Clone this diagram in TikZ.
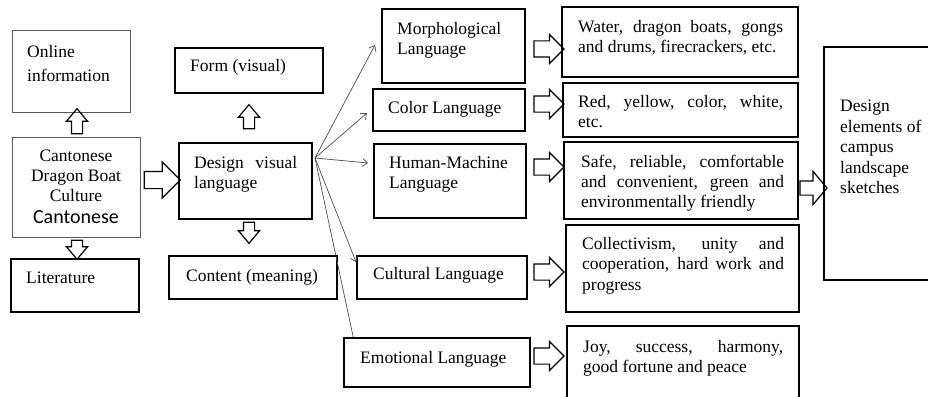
\documentclass[tikz,border=0pt]{standalone}
\usepackage{fontspec}
\setmainfont{Liberation Serif}
\newfontfamily\cantfont{Carlito}
\usetikzlibrary{shapes.arrows,arrows.meta}

\tikzset{
	box/.style={draw, line width=1.5pt, inner sep=0pt},
	greybox/.style={draw=black!65, line width=0.9pt, inner sep=0pt},
	txt/.style={inner sep=0pt, align=left, font=\fontsize{17.5}{20}\selectfont},
	jtxt/.style={txt, align=justify, text width=#1},
	barrow/.style={single arrow, draw, line width=1.2pt, inner xsep=0pt,
		minimum width=0pt, single arrow tip angle=90},
	vbarrow/.style={barrow, inner xsep=5pt, inner ysep=0pt,
		single arrow head extend=5pt, single arrow tip angle=80},
	langline/.style={draw=black!70, line width=0.7pt,
		-{Straight Barb[length=5pt, width=8pt]}}
}

\begin{document}
\begin{tikzpicture}[x=1pt, y=-1pt]
	\clip (0, 0) rectangle (928, 396);

	% left column
	\node[greybox, minimum width=118pt, minimum height=82pt] (online) at (71, 71) {};
	\node[txt, anchor=north west, font=\fontsize{17.5}{24}\selectfont] (onlinetxt) at (27, 45) {Online\\information};

	\node[greybox, minimum width=128pt, minimum height=100pt] (cant) at (76, 187) {};
	\node[txt, align=center, anchor=north] (canttxt) at (76, 150)
		{Cantonese\\Dragon Boat\\Culture\\[2pt]{\cantfont\fontsize{20}{22}\selectfont Cantonese}};

	\node[box, minimum width=128pt, minimum height=53pt] (lit) at (75, 285.5) {};
	\node[txt, anchor=base west] (littxt) at (26, 283) {Literature};

	% design visual language
	\node[box, minimum width=148pt, minimum height=45pt] (form) at (249, 70.5) {};
	\node[txt, anchor=base west] (formtxt) at (190, 71) {Form (visual)};

	\node[box, minimum width=133pt, minimum height=76pt] (design) at (245.5, 181) {};
	\node[jtxt=103pt, anchor=north west] (designtxt) at (194, 156) {Design visual\linebreak language};

	\node[box, minimum width=168pt, minimum height=43pt] (content) at (253, 277.5) {};
	\node[txt, anchor=base west] (contenttxt) at (186, 281) {Content (meaning)};

	% languages
	\node[box, minimum width=143pt, minimum height=74pt] (morph) at (453.5, 46) {};
	\node[txt, anchor=north west] (morphtxt) at (397, 22) {Morphological\\Language};

	\node[box, minimum width=152pt, minimum height=42pt] (colorlang) at (449, 110) {};
	\node[txt, anchor=base west] (colortxt) at (388, 113) {Color Language};

	\node[box, minimum width=152pt, minimum height=74pt] (human) at (450, 181) {};
	\node[txt, anchor=north west] (humantxt) at (389, 156) {Human-Machine\\Language};

	\node[box, minimum width=170pt, minimum height=43pt] (cultural) at (442, 277.5) {};
	\node[txt, anchor=base west] (culturaltxt) at (373, 279) {Cultural Language};

	\node[box, minimum width=186pt, minimum height=49pt] (emotional) at (437, 362.5) {};
	\node[txt, anchor=base west] (emotionaltxt) at (360, 363) {Emotional Language};

	% elements
	\node[box, minimum width=236pt, minimum height=70pt] (water) at (680, 42) {};
	\node[jtxt=205pt, anchor=north west] (watertxt) at (578, 20)
		{Water, dragon boats, gongs\linebreak and drums, firecrackers, etc.};

	\node[box, minimum width=235pt, minimum height=54pt] (red) at (680.5, 110) {};
	\node[jtxt=205pt, anchor=north west] (redtxt) at (578, 95)
		{Red, yellow, color, white,\linebreak etc.};

	\node[box, minimum width=234pt, minimum height=77pt] (safe) at (681, 180.5) {};
	\node[jtxt=203pt, anchor=north west] (safetxt) at (581, 155)
		{Safe, reliable, comfortable\linebreak and convenient, green and\linebreak environmentally friendly};

	\node[box, minimum width=233pt, minimum height=87pt] (collect) at (682.5, 268.5) {};
	\node[jtxt=202pt, anchor=north west, font=\fontsize{17.5}{20.5}\selectfont] (collecttxt) at (582, 237)
		{Collectivism, unity and\linebreak cooperation, hard work and\linebreak progress};

	\node[box, minimum width=232pt, minimum height=84pt] (joy) at (683, 368) {};
	\node[jtxt=200pt, anchor=north west] (joytxt) at (583, 340)
		{Joy, success, harmony,\linebreak good fortune and peace};

	\node[box, minimum width=116pt, minimum height=233pt] (sketch) at (882, 163.5) {};
	\node[txt, anchor=north west, font=\fontsize{17.5}{20.5}\selectfont] (sketchtxt) at (840, 100)
		{Design\\elements of\\campus\\landscape\\sketches};

	% block arrows
	\node[vbarrow, minimum height=25pt, shape border rotate=90] (a1) at (77, 124.5) {};
	\node[vbarrow, minimum height=19pt, shape border rotate=270] (a2) at (77, 246.5) {};
	\node[barrow, minimum height=36pt, inner ysep=8pt, single arrow head extend=9.5pt] (a3) at (158, 180) {};
	\node[vbarrow, minimum height=24pt, shape border rotate=90] (a4) at (249, 120) {};
	\node[vbarrow, minimum height=21pt, shape border rotate=270] (a5) at (249, 229.5) {};
	\foreach \y/\n in {49/a6, 104/a7, 167/a8, 272/a9, 356/a10}
		\node[barrow, minimum height=30pt, inner ysep=7.5pt, single arrow head extend=6.5pt] (\n) at (545, \y) {};
	\node[barrow, minimum height=27pt, inner ysep=6.5pt, single arrow head extend=9.5pt,
		single arrow tip angle=100] (a11) at (810.5, 188) {};

	% thin arrows
	\coordinate (hub) at (315, 158);
	\coordinate (tipmorph) at (375, 45);
	\coordinate (tipcolor) at (367, 113);
	\coordinate (tiphuman) at (368, 163);
	\coordinate (tipcult) at (356, 262);
	\draw[langline] (hub) -- (tipmorph);
	\draw[langline] (hub) -- (tipcolor);
	\draw[langline] (hub) -- (tiphuman);
	\draw[langline] (hub) -- (tipcult);
	\draw[langline, -] (hub) -- ([xshift=10pt]emotional.north west);
\end{tikzpicture}
\end{document}
